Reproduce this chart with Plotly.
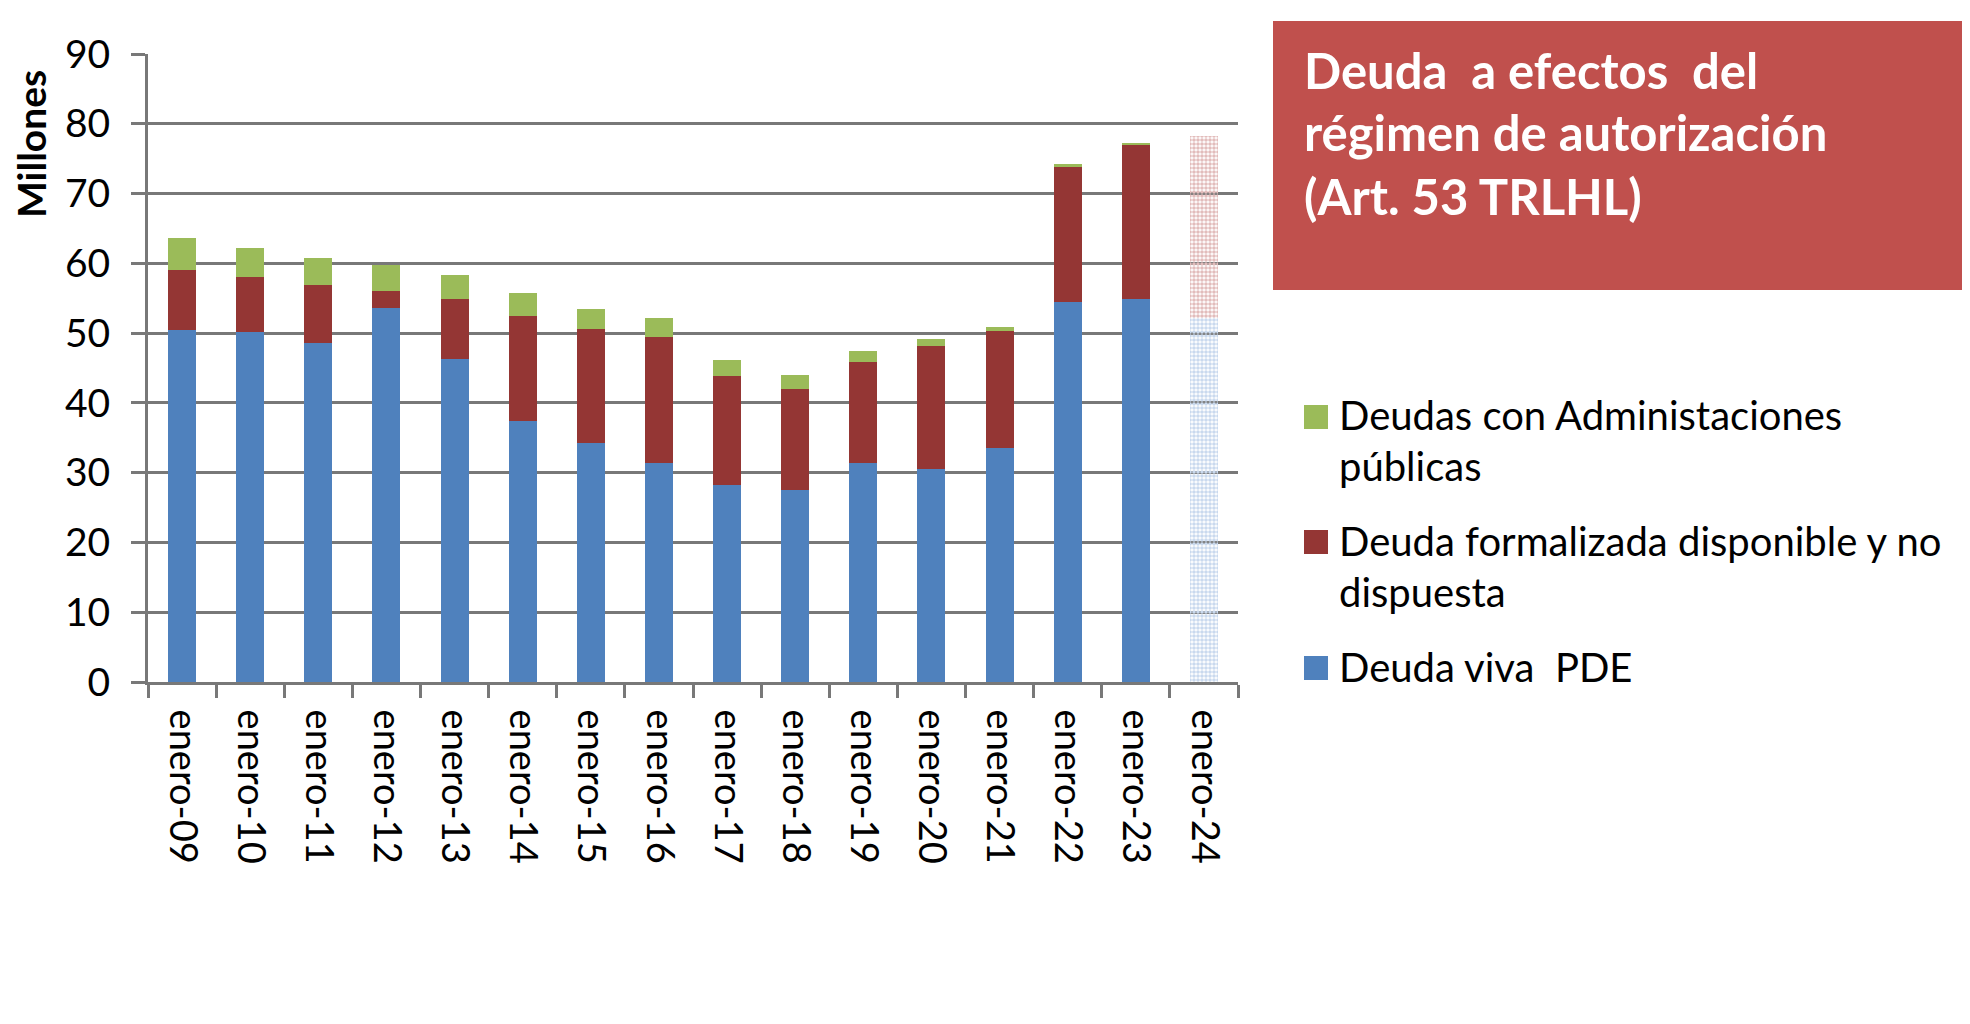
import plotly.graph_objects as go

# ---------------- data ----------------
categories = ["enero-09", "enero-10", "enero-11", "enero-12", "enero-13", "enero-14",
              "enero-15", "enero-16", "enero-17", "enero-18", "enero-19", "enero-20",
              "enero-21", "enero-22", "enero-23", "enero-24"]
deuda_viva = [50.5, 50.1, 48.6, 53.6, 46.3, 37.4, 34.3, 31.4, 28.3, 27.5, 31.4, 30.5,
              33.6, 54.5, 54.9, 52.1]
deuda_formalizada = [8.5, 7.9, 8.3, 2.5, 8.6, 15.0, 16.3, 18.1, 15.5, 14.5, 14.5, 17.6,
                     16.7, 19.3, 22.2, 26.1]
deudas_admin = [4.6, 4.2, 3.8, 3.6, 3.4, 3.3, 2.8, 2.7, 2.4, 2.0, 1.6, 1.1, 0.6, 0.5, 0.1, 0.0]
estimated = [False] * 15 + [True]

series_names = ["Deuda viva  PDE",
                "Deuda formalizada disponible y no dispuesta",
                "Deudas con Administaciones públicas"]
legend_lines = [["Deudas con Administaciones", "públicas"],
                ["Deuda formalizada disponible y no", "dispuesta"],
                ["Deuda viva  PDE"]]
title_lines = ["Deuda  a efectos  del", "régimen de autorización", "(Art. 53 TRLHL)"]
y_axis_title = "Millones"
y_ticks = [0, 10, 20, 30, 40, 50, 60, 70, 80, 90]

# ---------------- styles ----------------
BLUE, RED, GREEN = "#4f81bd", "#943634", "#9bbb59"
BLUE_LIGHT, RED_LIGHT = "#c9d9ee", "#e2bcbb"
BOX = "#c0504d"
GRID = "#787878"
FONT = "Lato"

OFF = 8                       # default page margin of the html body
W, H = 1970 - OFF, 1024 - OFF
L, R, T, B = 148, 1238, 54, 682   # plot area in page pixels


def px(xp):
    return (xp - L) / (R - L)


def py(yp):
    return (B - yp) / (B - T)


def bar_marker(color, light):
    return dict(
        color=[light if e else color for e in estimated],
        line=dict(width=0),
        pattern=dict(
            shape=["." if e else "" for e in estimated],
            fgcolor=color, bgcolor=light,
            size=4, solidity=0.65, fillmode="replace",
        ),
    )


fig = go.Figure()
fig.add_trace(go.Bar(x=categories, y=deuda_viva, name=series_names[0],
                     marker=bar_marker(BLUE, BLUE_LIGHT)))
fig.add_trace(go.Bar(x=categories, y=deuda_formalizada, name=series_names[1],
                     marker=bar_marker(RED, RED_LIGHT)))
fig.add_trace(go.Bar(x=categories, y=deudas_admin, name=series_names[2],
                     marker=dict(color=GREEN, line=dict(width=0))))

shapes = []
annotations = []

# title box
shapes.append(dict(type="rect", xref="paper", yref="paper",
                   x0=px(1273), x1=px(1963), y0=py(290), y1=py(21),
                   fillcolor=BOX, line=dict(width=0), layer="above"))
title_centers = [70, 132, 196]
for line, yc in zip(title_lines, title_centers):
    annotations.append(dict(text=line, xref="paper", yref="paper", x=px(1302), y=py(yc),
                            xanchor="left", yanchor="middle", showarrow=False,
                            font=dict(family=FONT, size=49, color="white", weight="bold")))

# manual legend
legend_colors = [GREEN, RED, BLUE]
swatch_centers = [417, 542, 668]
text_centers = [[415, 466], [541, 592], [667]]
for col, sc, lines, tcs in zip(legend_colors, swatch_centers, legend_lines, text_centers):
    shapes.append(dict(type="rect", xref="paper", yref="paper",
                       x0=px(1304), x1=px(1328), y0=py(sc + 12), y1=py(sc - 12),
                       fillcolor=col, line=dict(width=0)))
    for ln, tc in zip(lines, tcs):
        annotations.append(dict(text=ln, xref="paper", yref="paper", x=px(1337), y=py(tc),
                                xanchor="left", yanchor="middle", showarrow=False,
                                font=dict(family=FONT, size=40, color="black")))

# y-axis title
annotations.append(dict(text=y_axis_title, xref="paper", yref="paper", x=px(31), y=py(144),
                        xanchor="center", yanchor="middle", textangle=-90, showarrow=False,
                        font=dict(family=FONT, size=39, color="black", weight="bold")))

# outer border lines (top and right)
shapes.append(dict(type="line", xref="paper", yref="paper",
                   x0=px(0), x1=px(1968), y0=py(4.5), y1=py(4.5),
                   line=dict(color="#7f7f7f", width=2.5)))
shapes.append(dict(type="line", xref="paper", yref="paper",
                   x0=px(1967.5), x1=px(1967.5), y0=py(4), y1=py(1030),
                   line=dict(color="#7f7f7f", width=3)))

fig.update_layout(
    width=W, height=H,
    margin=dict(l=L - OFF, r=W - (R - OFF), t=T - OFF, b=H - (B - OFF), pad=0),
    barmode="stack", bargap=0.59,
    paper_bgcolor="white", plot_bgcolor="white",
    showlegend=False,
    shapes=shapes, annotations=annotations,
    font=dict(family=FONT, color="black"),
)
fig.update_xaxes(
    type="category", range=[-0.5, len(categories) - 0.5],
    showline=True, linecolor=GRID, linewidth=3,
    ticks="outside", tickson="boundaries", ticklen=13, tickwidth=3, tickcolor=GRID,
    tickangle=90, tickfont=dict(family=FONT, size=38, color="black"),
    ticklabelstandoff=17,
    showgrid=False,
)
fig.update_yaxes(
    range=[0, 90], tickvals=y_ticks,
    showline=True, linecolor=GRID, linewidth=3,
    ticks="outside", ticklen=14, tickwidth=2.5, tickcolor=GRID,
    showgrid=True, gridcolor=GRID, gridwidth=2.5, zeroline=False,
    tickfont=dict(family=FONT, size=39, color="black"),
    ticklabelstandoff=13,
)

fig.write_html("out.html")
